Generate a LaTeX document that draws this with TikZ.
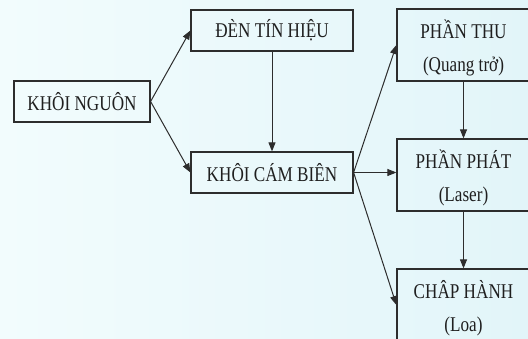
\documentclass[tikz,border=0pt]{standalone}
\usepackage{fontspec}
\setmainfont{Liberation Serif}
\usetikzlibrary{arrows.meta}
\definecolor{bgl}{RGB}{242,252,253}
\definecolor{bgr}{RGB}{226,245,249}
\definecolor{ln}{RGB}{45,45,45}
\newcommand{\tx}[1]{\scalebox{0.98}[1.2]{#1}}
\tikzset{
  blk/.style={draw=ln, line width=1.2pt, rectangle, inner sep=0pt, align=center,
    font=\fontsize{17.5}{33}\selectfont, text=black!88},
  conn/.style={draw=ln, line width=1pt, -{Triangle[length=9pt,width=7pt]}},
}
\begin{document}
\begin{tikzpicture}[x=1pt,y=-1pt]
\useasboundingbox (0,0) rectangle (528,339);
\shade[left color=bgl, right color=bgr] (0,0) rectangle (528,339);
\begin{scope}
\clip (0,0) rectangle (528,339);
\node[blk, minimum width=136pt, minimum height=41pt] (A) at (82,101.5) {\tx{KHÔI NGUÔN}};
\node[blk, minimum width=162pt, minimum height=41pt] (B) at (272,30.5) {\tx{ĐÈN TÍN HIỆU}};
\node[blk, minimum width=162pt, minimum height=41pt] (C) at (272,172.5) {\tx{KHÔI CÁM BIÊN}};
\node[blk, minimum width=133pt, minimum height=72pt] (D) at (463.5,45) {\rule{0pt}{24pt}\tx{PHẦN THU}\\\tx{(Quang trở)}};
\node[blk, minimum width=133pt, minimum height=72pt] (E) at (463.5,175) {\rule{0pt}{24pt}\tx{PHẦN PHÁT}\\\tx{(Laser)}};
\node[blk, minimum width=133pt, minimum height=72pt] (F) at (463.5,305) {\rule{0pt}{24pt}\tx{CHÂP HÀNH}\\\tx{(Loa)}};
\end{scope}
\draw[conn] (A.east) -- (B.west);
\draw[conn] (A.east) -- (C.west);
\draw[conn] (B.south) -- (C.north);
\draw[conn] (C.east) -- (D.west);
\draw[conn] (C.east) -- (C.east -| E.west);
\draw[conn] (C.east) -- (F.west);
\draw[conn] (D.south) -- (E.north);
\draw[conn] (E.south) -- (F.north);
\end{tikzpicture}
\end{document}
